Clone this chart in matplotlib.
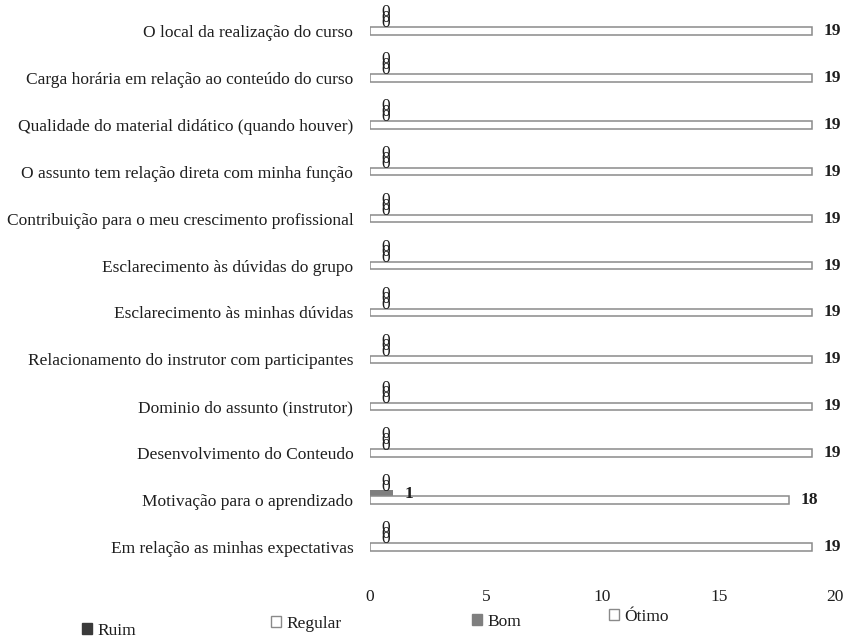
import matplotlib
matplotlib.use("Agg")
import matplotlib.pyplot as plt
import numpy as np
from matplotlib.patches import Patch

plt.rcParams['font.family'] = ['Liberation Serif', 'DejaVu Serif']

categories = [
    "O local da realização do curso",
    "Carga horária em relação ao conteúdo do curso",
    "Qualidade do material didático (quando houver)",
    "O assunto tem relação direta com minha função",
    "Contribuição para o meu crescimento profissional",
    "Esclarecimento às dúvidas do grupo",
    "Esclarecimento às minhas dúvidas",
    "Relacionamento do instrutor com participantes",
    "Dominio do assunto (instrutor)",
    "Desenvolvimento do Conteudo",
    "Motivação para o aprendizado",
    "Em relação as minhas expectativas",
]
series_names = ["Ruim", "Regular", "Bom", "Ótimo"]
ruim    = [0, 0, 0, 0, 0, 0, 0, 0, 0, 0, 0, 0]
regular = [0, 0, 0, 0, 0, 0, 0, 0, 0, 0, 0, 0]
bom     = [0, 0, 0, 0, 0, 0, 0, 0, 0, 0, 1, 0]
otimo   = [19, 19, 19, 19, 19, 19, 19, 19, 19, 19, 18, 19]
x_ticks = [0, 5, 10, 15, 20]

W, H = 849, 639
fig = plt.figure(figsize=(W / 100, H / 100), dpi=100)
ax_top, ax_bot = 5, 590
ax = fig.add_axes([370 / W, 1 - ax_bot / H, 465 / W, (ax_bot - ax_top) / H])

face = ["#3a3a3a", "white", "#7f7f7f", "white"]
edge = ["#3a3a3a", "#8a8a8a", "#7f7f7f", "#8a8a8a"]
lws = [0, 1.1, 0, 1.1]
data = [ruim, regular, bom, otimo]
step = 0.12
offsets = [-3 * step, -2 * step, -step, 0.0]
y = np.arange(len(categories))
txt = "#1e1e1e"
fs = 12.5
for vals, off, fc, ec, lw in zip(data, offsets, face, edge, lws):
    for yi, v in zip(y, vals):
        ax.barh(yi + off - (0.02 if lw == 0 else 0), v,
                height=0.17 if lw == 0 else 0.16,
                color=fc, edgecolor=ec, linewidth=lw if v > 0 else 0)
        ax.text(v + 0.5, yi + off - (0.04 if v == 0 else 0), f"{v}", va="center", ha="left",
                fontsize=fs, fontweight="bold" if v > 0 else "normal", color=txt)

px = 46.9
ax.set_ylim(11 + (ax_bot - 547) / px, -(31 - ax_top) / px)
ax.set_xlim(0, 20)
ax.set_yticks(y)
ax.set_yticklabels(categories, fontsize=fs, color=txt)
ax.set_xticks(x_ticks)
ax.set_xticklabels([str(t) for t in x_ticks], fontsize=fs, color=txt)
ax.tick_params(length=0)
ax.tick_params(axis="y", pad=12)
ax.tick_params(axis="x", pad=-1)
for s in ax.spines.values():
    s.set_visible(False)

# legend entries placed individually (left x of marker, y centre in pixels)
leg_pos = [(82, 631), (271, 624), (472, 622), (609, 617)]
for name, fc, ec, (lx, ly) in zip(series_names, face, edge, leg_pos):
    h = Patch(facecolor=fc, edgecolor=ec, linewidth=1)
    fig.legend([h], [name], loc="center left", bbox_to_anchor=(lx / W, 1 - ly / H),
               frameon=False, fontsize=fs, handlelength=0.6, handleheight=0.6,
               handletextpad=0.3, borderpad=0, borderaxespad=0, labelcolor=txt)

fig.savefig("out.png", dpi=100, facecolor="white")
